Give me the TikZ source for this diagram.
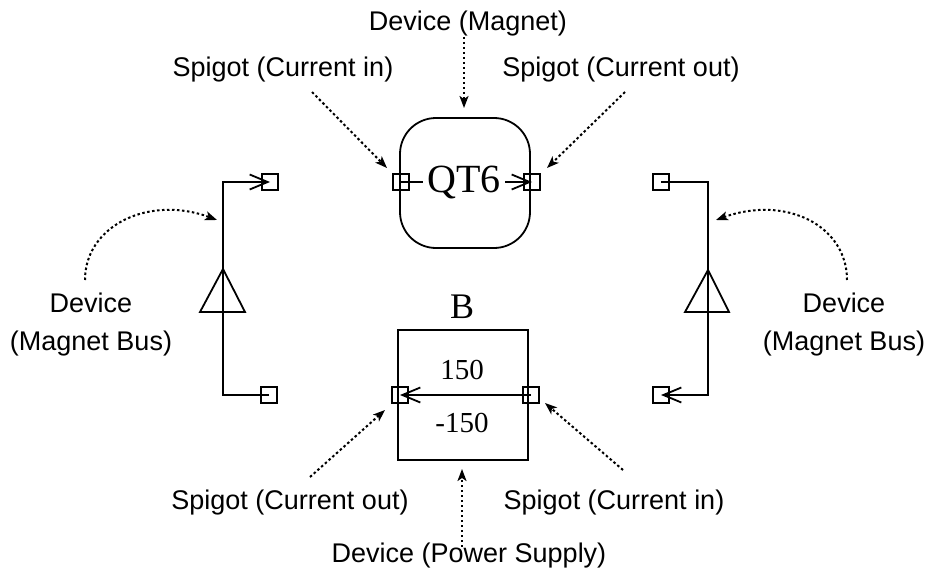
\documentclass[tikz,border=0pt]{standalone}
\usepackage{fontspec}
\usetikzlibrary{arrows.meta}
\setmainfont{Liberation Sans}
\newfontfamily\timesfont{Liberation Serif}
\tikzset{
    spigot/.style = {draw, line width = 1.5pt, minimum size = 16pt, inner sep = 0pt},
    device/.style = {draw, line width = 1.8pt, minimum size = 130pt, inner sep = 0pt},
    wire/.style = {line width = 1.8pt, -{Straight Barb[length = 18pt, width = 15pt, line width = 1.8pt]}},
    pointer/.style = {line width = 2pt, dash pattern = on 2.5pt off 2.5pt, -{Stealth[length = 12pt, width = 9pt, inset = 3pt]}},
    label/.style = {font = \fontsize{27}{38}\selectfont, align = center, inner sep = 0pt},
    value/.style = {font = \fontsize{29}{33}\selectfont\timesfont, inner sep = 0pt}
}
\begin{document}
\begin{tikzpicture}[x = 1pt, y = -1pt]
    \useasboundingbox (0,0) rectangle (928,567);

    \node [device, rounded corners = 36pt] (magnet) at (465,183) {};
    \node [device] (supply) at (463,395) {};

    \node [spigot] (magin) at (401,182) {};
    \node [spigot] (magout) at (532,182) {};
    \node [spigot] (supout) at (400,395) {};
    \node [spigot] (supin) at (531,395) {};
    \node [spigot] (lefttop) at (270,182) {};
    \node [spigot] (leftbot) at (269,395) {};
    \node [spigot] (righttop) at (661,182) {};
    \node [spigot] (rightbot) at (661,395) {};

    \draw [wire] (magin.center) -- node[value, pos = 0.48, fill = white, font = \fontsize{40}{44}\selectfont\timesfont, inner xsep = 4pt, inner ysep = 0pt] (qt) {QT6} (magout.center);
    \draw [wire] (supin.center) -- (supout.center);
    \node [value] (supname) at (462,307) {\fontsize{36}{40}\selectfont B};
    \node [value] (suphigh) at (462,370) {150};
    \node [value] (suplow) at (462,423) {-150};

    \coordinate (lefttip) at (223,269);
    \coordinate (leftbase1) at (200,312);
    \coordinate (leftbase2) at (245,312);
    \coordinate (righttip) at (708,270);
    \coordinate (rightbase1) at (685,312);
    \coordinate (rightbase2) at (729,312);

    \draw [line width = 1.8pt] (lefttip) -- (leftbase1) -- (leftbase2) -- cycle;
    \draw [line width = 1.8pt] (righttip) -- (rightbase1) -- (rightbase2) -- cycle;
    \draw [wire] (leftbot.center) -| (lefttip) |- (lefttop.center);
    \draw [wire] (righttop.center) -| (righttip) |- (rightbot.center);

    \node [label, anchor = base] (magname) at (468,31) {Device (Magnet)};
    \node [label, anchor = base] (curinA) at (283,77) {Spigot (Current in)};
    \node [label, anchor = base] (curoutA) at (621,77) {Spigot (Current out)};
    \node [label, anchor = base] (curoutB) at (290,509) {Spigot (Current out)};
    \node [label, anchor = base] (curinB) at (614,509) {Spigot (Current in)};
    \node [label, anchor = base] (supplyname) at (469,562) {Device (Power Supply)};
    \node [label] (leftbus) at (91,325) {Device\\(Magnet Bus)};
    \node [label] (rightbus) at (844,325) {Device\\(Magnet Bus)};

    \coordinate (magend) at (464,108);
    \coordinate (curinAend) at (387,168);
    \coordinate (curoutAend) at (547,168);
    \coordinate (curoutBend) at (385,410);
    \coordinate (curinBend) at (545,403);
    \coordinate (supplyend) at (462,469);
    \coordinate (leftend) at (217,220);
    \coordinate (rightend) at (716,220);

    \draw [pointer] (magname.south -| magend) -- (magend);
    \draw [pointer] (312,92) -- (curinAend);
    \draw [pointer] (625,92) -- (curoutAend);
    \draw [pointer] (310,477) -- (curoutBend);
    \draw [pointer] (623,470) -- (curinBend);
    \draw [pointer] ([yshift = -5pt]supplyname.north -| supplyend) -- (supplyend);
    \draw [pointer] (85,280) .. controls (85,225) and (150,195) .. (leftend);
    \draw [pointer] (847,280) .. controls (847,225) and (785,195) .. (rightend);
\end{tikzpicture}
\end{document}
